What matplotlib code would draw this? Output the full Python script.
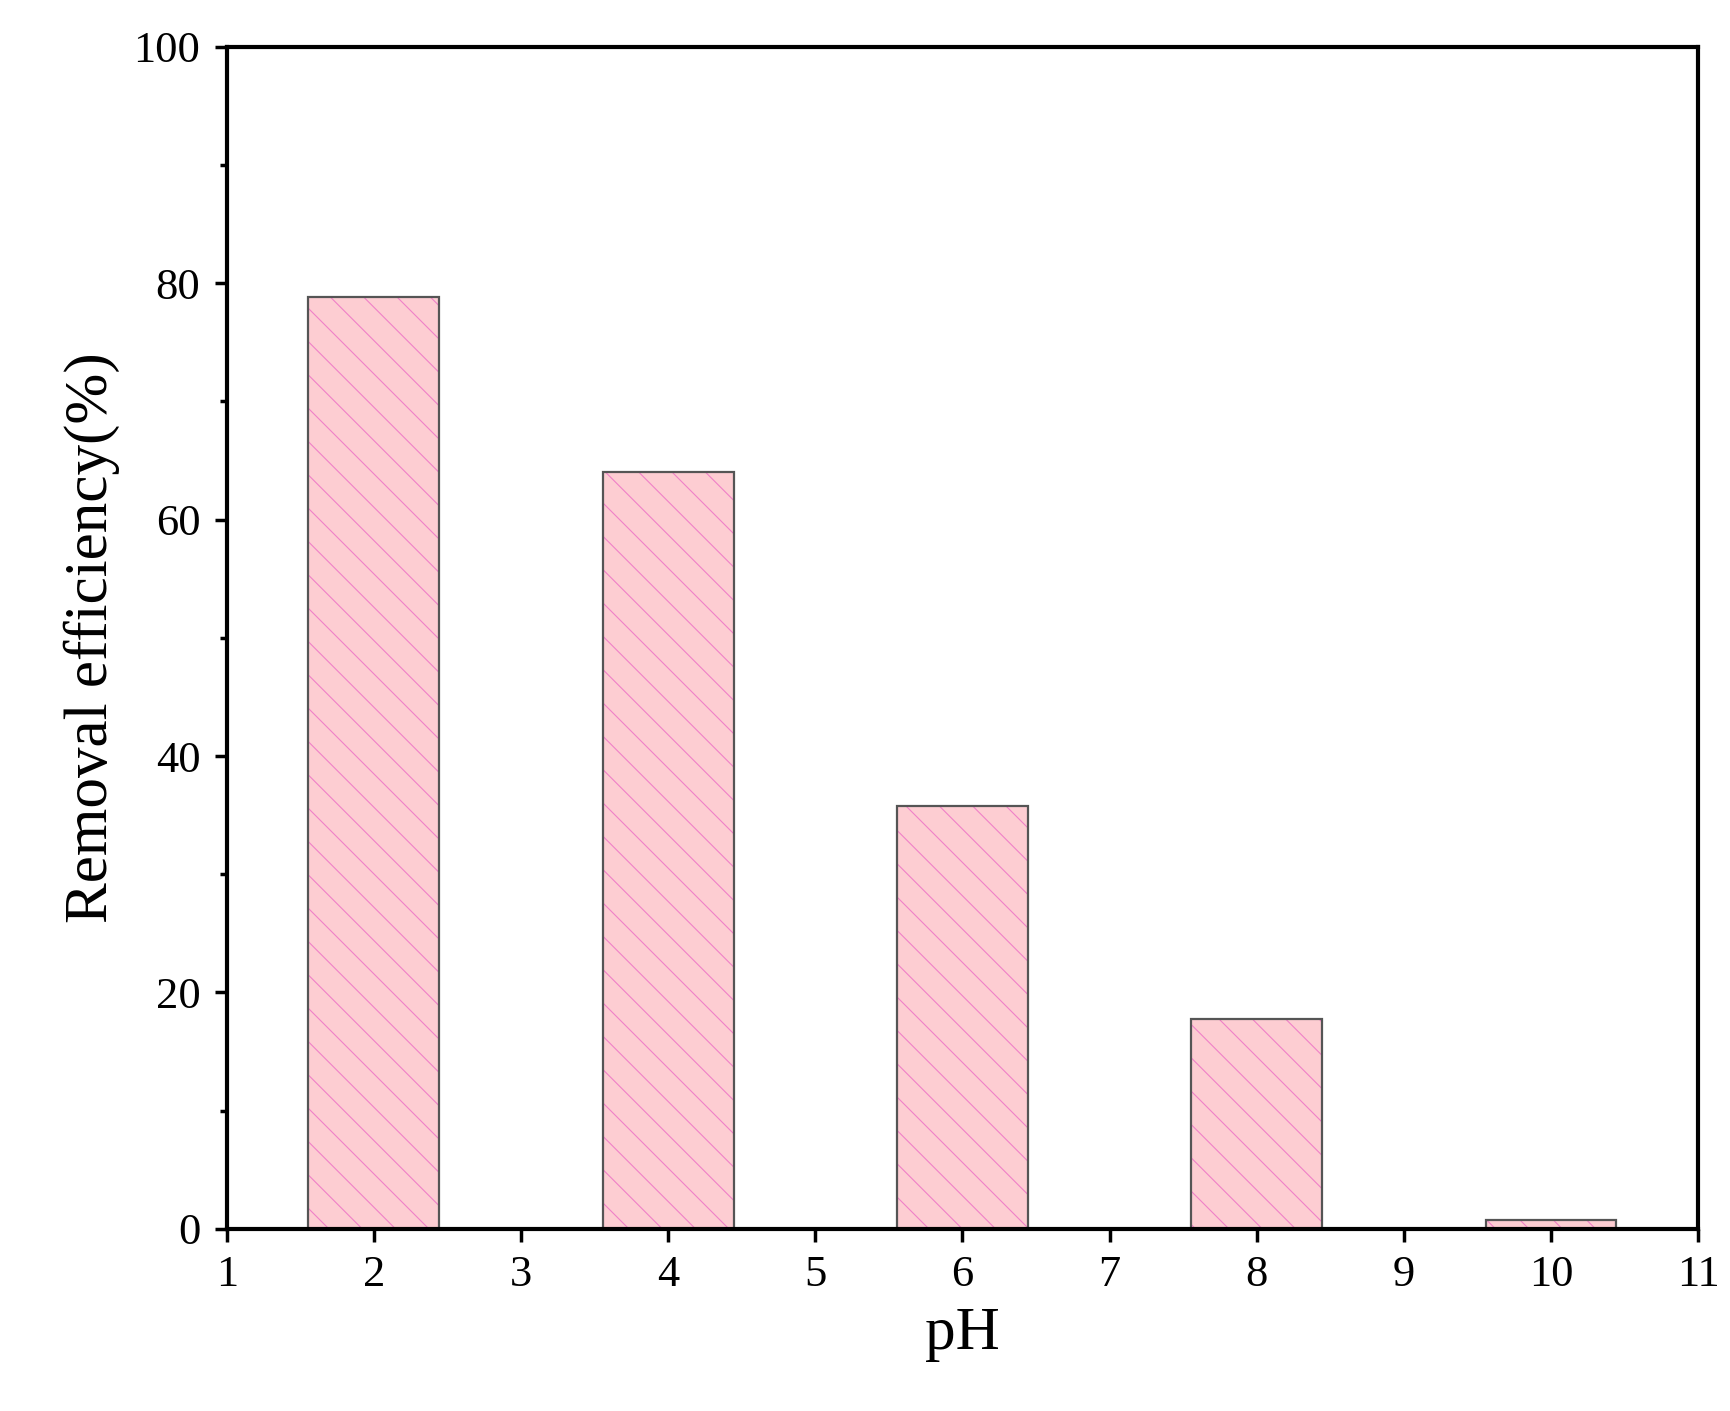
import matplotlib.pyplot as plt
from matplotlib.ticker import MultipleLocator

ph = [2, 4, 6, 8, 10]
removal = [78.8, 64.0, 35.8, 17.8, 0.8]

plt.rcParams["font.family"] = ["Liberation Serif", "DejaVu Serif"]
plt.rcParams["hatch.linewidth"] = 0.8

fig = plt.figure(figsize=(17.31, 14.11), dpi=100)
ax = fig.add_axes([0.131, 0.129, 0.85, 0.838])

# fill + pink hatch, then dark outline on top
ax.bar(ph, removal, width=0.89, color="#fdcdd2", edgecolor="#f080c8", hatch="\\", linewidth=0)
ax.bar(ph, removal, width=0.89, fill=False, edgecolor="#555555", linewidth=1.6)

ax.set_xlim(1, 11)
ax.set_ylim(0, 100)
ax.set_xticks(range(1, 12))
ax.yaxis.set_major_locator(MultipleLocator(20))
ax.yaxis.set_minor_locator(MultipleLocator(10))
ax.tick_params(which="major", length=9, width=2.5, labelsize=32, direction="out", pad=10)
ax.tick_params(which="minor", length=5, width=2.5, direction="out")
for s in ax.spines.values():
    s.set_linewidth(3)

ax.set_xlabel("pH", fontsize=44, labelpad=8)
ax.set_ylabel("Removal efficiency(%)", fontsize=44, labelpad=10)

fig.savefig("out.png", dpi=100)
